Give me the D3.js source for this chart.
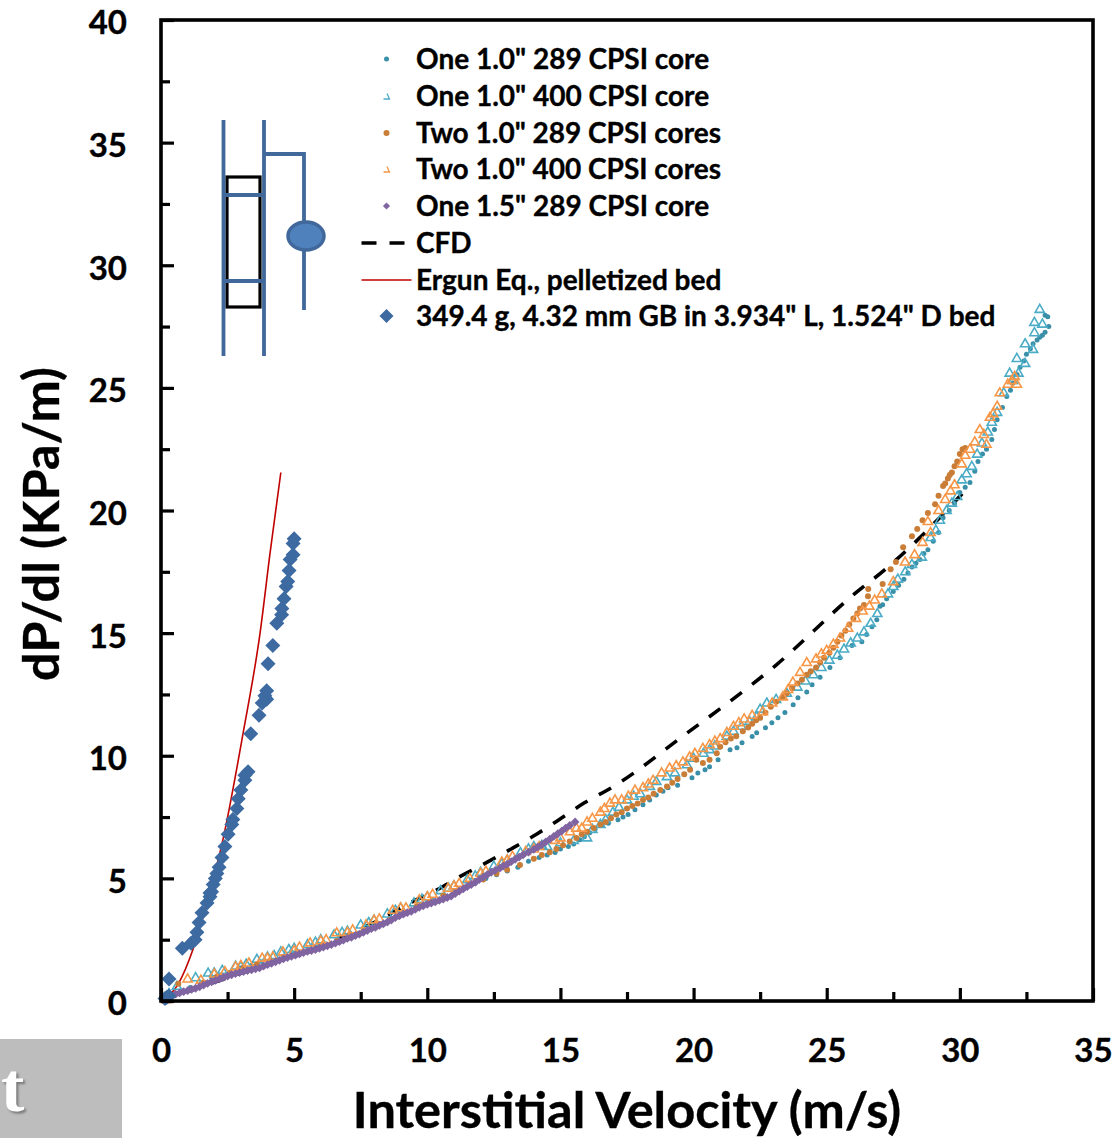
<!DOCTYPE html>
<html>
<head>
<meta charset="utf-8">
<script src="https://cdnjs.cloudflare.com/ajax/libs/d3/7.8.5/d3.min.js"></script>
<style>
  html, body { margin: 0; padding: 0; background: #fff; }
  svg { display: block; }
  text { font-family: Lato, "Noto Sans", sans-serif; font-weight: 700; fill: #000; stroke: #000; stroke-width: 0.35px; }
</style>
</head>
<body>
<div id="chart"></div>
<script>
// Values, [velocity m/s, dP/dl KPa/m]
const oneCore289 = [[0.2,0.1],[0.5,0.25],[0.8,0.4],[1.1,0.55],[1.5,0.7],[1.9,0.95],[2.2,1.05],[2.6,1.15],[3,1.35],[3.4,1.45],[3.8,1.6],[4.2,1.65],[4.6,1.8],[5,1.85],[5.4,2],[5.8,2.1],[6.2,2.3],[6.6,2.45],[7,2.6],[7.4,2.75],[7.8,3],[8.2,3.15],[8.6,3.35],[9,3.55],[9.4,3.7],[9.8,3.95],[10.2,4.1],[10.6,4.3],[11,4.45],[11.4,4.65],[11.8,4.8],[12.2,5],[12.6,5.15],[13,5.3],[13.4,5.45],[13.8,5.7],[14.2,5.85],[14.8,6.05],[15.3,6.3],[15.73,6.57],[16.1,6.86],[16.56,7.18],[17.16,7.39],[17.54,7.6],[18.1,8],[18.6,8.4],[19.04,8.7],[19.4,8.8],[19.94,9.1],[20.16,9.3],[20.43,9.43],[20.6,9.55],[20.92,9.84],[21.37,10.24],[21.63,10.33],[21.82,10.53],[22.2,10.78],[22.37,10.94],[22.7,11.14],[22.94,11.35],[23.17,11.55],[23.43,11.76],[23.74,12.08],[23.92,12.37],[24.25,12.6],[24.45,12.9],[24.75,13.2],[25.12,13.6],[25.5,14],[25.95,14.5],[26.32,14.65],[26.5,14.94],[26.7,15.26],[26.88,15.55],[27.1,16.16],[27,16.1],[27.5,16.7],[27.9,17.2],[28.2,17.7],[28.5,18],[28.8,18.4],[29.2,19.1],[29.37,19.7],[29.8,20.3],[30,20.73],[30.38,21.14],[30.56,21.6],[30.68,22],[31,22.5],[31.2,22.9],[31.4,23.7],[31.76,24.65],[32,25.2],[32.26,25.84],[32.5,26.37],[32.75,26.8],[33,27.06],[33.2,27.27],[33.34,27.5],[33.3,27.9],[33.2,27.96],
  [14.5,5.95],[15,6.2],[15.5,6.4],[15.9,6.7],[16.3,7],[16.8,7.25],[17.35,7.5],[17.8,7.8],[18.35,8.2],[18.85,8.55],[27.25,16.4],[27.7,16.95],[28.05,17.45],[28.35,17.85],[28.65,18.25],[29,18.75],[29.6,20],[30.2,20.95],[30.85,22.3],[31.3,23.3],[31.6,24.2],[31.9,24.9],[32.15,25.55],[32.4,26.1],[32.65,26.6],[32.9,26.95],[33.1,27.15]];

const oneCore400 = [[0.3,0.3],[0.6,0.6],[1.77,1.14],[2.3,1.25],[2.8,1.42],[3.2,1.5],[3.6,1.7],[4,1.8],[4.5,2],[5,2.15],[5.5,2.3],[6,2.5],[6.5,2.7],[7,2.85],[7.5,3.1],[8,3.3],[8.5,3.55],[9,3.8],[9.5,4],[10,4.25],[10.5,4.5],[11,4.7],[11.5,4.95],[12,5.25],[12.5,5.5],[13,5.75],[13.5,6.05],[14,6.3],[14.5,6.3],[15,6.45],[15.5,6.55],[16,6.65],[16.5,7.2],[16.97,7.7],[17.5,8.2],[18,8.45],[18.36,8.75],[19,9.15],[19.75,9.63],[20.37,10.1],[20.8,10.4],[21.25,10.8],[21.8,11.2],[22.37,11.6],[22.75,12.15],[23.1,12.3],[23.9,12.8],[24.5,13.3],[25.1,13.9],[25.4,14.1],[25.9,14.6],[26.4,15.05],[26.9,15.8],[27.3,16.6],[27.67,17.2],[28.2,17.8],[28.57,18.1],[28.9,18.9],[29.25,19.6],[29.5,20],[29.9,20.57],[30.07,21.25],[30.45,21.8],[30.83,22.75],[31.05,23.2],[31.4,24],[31.87,25.6],[32.2,25.6],[32.14,26.2],[32.45,26],[32.45,26.8],[32.75,26.57],[32.8,27.25],[32.8,27.67],[33.1,27.6],[33,28.2],
  [1.3,0.95],[2,1.15],[3,1.4],[4.25,1.85],[4.8,2.1],[5.8,2.4],[6.8,2.8],[7.8,3.2],[8.8,3.7],[9.8,4.15],[10.8,4.6],[11.8,5.1],[12.8,5.6],[13.8,6.2],[14.3,6.35],[16.2,7],[16.7,7.4],[17.2,7.9],[17.75,8.35],[18.6,8.95],[19.3,9.3],[20,9.9],[20.6,10.25],[21.5,11],[22.1,11.4],[22.5,11.9],[23.5,12.55],[24.2,13.05],[24.8,13.6],[25.65,14.35],[26.15,14.8],[26.65,15.4],[27.5,16.9],[27.95,17.5],[29.1,19.2],[29.7,20.3],[30.25,21.5],[30.65,22.3],[31.2,23.6],[31.65,24.8],[32,25.3]];

const twoCores289 = [[0.1,0.05],[0.65,0.7],[1.2,0.5],[1.6,0.75],[2.1,1],[2.6,1.15],[3.1,1.35],[3.6,1.5],[4.1,1.65],[4.6,1.8],[5.1,1.9],[5.6,2.05],[6.1,2.25],[6.6,2.45],[7.1,2.65],[7.6,2.85],[8.1,3.05],[8.6,3.3],[9.1,3.55],[9.6,3.85],[10.1,4.05],[10.6,4.3],[11.1,4.5],[11.6,4.75],[12.1,4.95],[12.6,5.2],[13,5.35],[13.48,5.55],[14,5.8],[14.6,6.07],[15.1,6.35],[15.6,6.65],[16,6.9],[16.5,7.2],[16.9,7.45],[17.3,7.7],[17.7,7.95],[18.1,8.2],[18.5,8.45],[19,8.75],[19.4,9.05],[19.87,9.43],[20.1,9.84],[20.35,9.7],[20.6,9.84],[20.87,10.1],[21,10.37],[21.4,10.7],[21.85,11],[22.2,11.3],[22.5,11.55],[22.9,12],[23.35,12.4],[23.7,12.75],[24.07,13.1],[24.4,13.45],[24.75,13.8],[25.1,14.2],[25.4,14.65],[25.7,15.1],[26,15.6],[26.25,16],[26.4,16.15],[26.55,16.5],[26.56,16.8],[27.1,17],[27.4,17.6],[27.6,17.9],[27.87,18.5],[28.2,18.95],[28.6,19.6],[28.8,19.9],[29.07,20.25],[29.37,21],[29.55,21.3],[29.7,21.55],[29.9,22],[30.1,22.5],
  [14.3,5.95],[14.85,6.2],[15.35,6.5],[15.8,6.8],[16.25,7.05],[16.7,7.3],[17.1,7.6],[17.5,7.85],[17.9,8.05],[18.3,8.3],[18.75,8.6],[19.2,8.9],[19.65,9.25],[21.2,10.55],[21.6,10.8],[22.05,11.15],[22.35,11.45],[22.7,11.75],[23.1,12.2],[23.5,12.55],[23.9,12.95],[24.25,13.3],[24.6,13.6],[24.9,14],[25.25,14.4],[25.55,14.9],[25.85,15.35],[26.15,15.8],[28.4,19.25],[29.2,20.6],[29.45,21.1],[29.62,21.45],[29.8,21.8],[30,22.3],[30.2,22.55]];

const twoCores400 = [[0.2,0.05],[1,0.9],[1.5,0.85],[2,1.1],[2.4,1.2],[2.8,1.39],[3.3,1.55],[3.8,1.75],[4.2,1.8],[4.58,2],[5.2,2.2],[5.6,2.37],[6.2,2.5],[6.6,2.78],[7.2,2.9],[7.7,3.1],[8.2,3.35],[8.7,3.7],[9.2,3.8],[9.7,4.12],[10.2,4.35],[10.78,4.6],[11.2,4.8],[11.6,5],[12.2,5.3],[12.8,5.67],[13.2,5.9],[13.7,6.1],[14.2,6.3],[14.8,6.55],[15.36,6.9],[15.8,7.05],[16.2,7.45],[16.5,7.7],[16.86,8.07],[17.3,8.2],[17.8,8.6],[18.1,8.7],[18.48,9],[19.1,9.5],[19.6,9.75],[20.05,10.1],[20.6,10.45],[21,10.7],[21.5,11.2],[21.9,11.5],[22.6,11.8],[23.35,12.4],[23.73,13],[24.25,13.8],[24.6,13.95],[25,14.3],[25.5,14.8],[26.1,15.6],[26.6,16.1],[27.07,16.6],[27.5,17.1],[27.94,17.9],[28.3,18.2],[28.6,18.7],[28.9,19.1],[28.8,19.55],[29.2,20],[29.45,20.45],[29.8,21.05],[30.07,21.9],[30.38,22.5],[30.56,22.8],[31,22.7],[30.75,23.3],[31.13,23.8],[31.4,24.25],[31.5,24.8],[31.8,25.15],[32.06,25.47],[32.14,25.15],
  [3,1.45],[4,1.75],[5,2.05],[6,2.45],[7,2.8],[8,3.3],[9,3.8],[10,4.25],[11,4.7],[12,5.2],[13,5.75],[14,6.2],[15,6.65],[15.6,7.05],[16,7.3],[16.65,7.85],[17.05,8.2],[17.55,8.35],[18.3,8.85],[18.8,9.3],[19.35,9.6],[19.85,9.95],[20.35,10.3],[20.8,10.6],[21.25,10.95],[21.7,11.35],[22.2,11.65],[22.95,12.15],[23.55,12.7],[24,13.4],[24.8,14.15],[25.25,14.55],[25.8,15.2],[26.35,15.9],[26.8,16.35],[29.65,20.8],[30.2,22.25],[30.9,23.1],[31.25,23.95],[31.95,25.3]];

const oneCore15 = [[0.1,0.05],[0.4,0.2],[0.7,0.33],[1,0.42],[1.3,0.52],[1.6,0.65],[1.9,0.78],[2.2,0.9],[2.5,1.02],[2.8,1.12],[3.1,1.2],[3.4,1.27],[3.7,1.35],[4,1.48],[4.3,1.6],[4.6,1.72],[4.9,1.82],[5.2,1.92],[5.5,2.02],[5.8,2.1],[6.1,2.2],[6.4,2.3],[6.7,2.42],[7,2.55],[7.3,2.67],[7.6,2.8],[7.9,2.95],[8.2,3.08],[8.5,3.22],[8.8,3.4],[9.1,3.54],[9.4,3.66],[9.7,3.82],[10,3.94],[10.3,4.04],[10.6,4.16],[10.9,4.28],[11.2,4.48],[11.5,4.66],[11.8,4.84],[12.1,5.05],[12.4,5.25],[12.73,5.42],[13,5.58],[13.3,5.78],[13.6,5.96],[14,6.18],[14.3,6.38],[14.6,6.6],[14.9,6.82],[15.2,7.05],[15.55,7.3],
  [0.55,0.28],[0.85,0.38],[1.15,0.47],[1.45,0.58],[1.75,0.72],[2.05,0.84],[2.35,0.96],[2.65,1.07],[2.95,1.16],[3.25,1.24],[3.55,1.31],[3.85,1.42],[4.15,1.54],[4.45,1.66],[4.75,1.77],[5.05,1.87],[5.35,1.97],[5.65,2.06],[5.95,2.15],[6.25,2.25],[6.55,2.36],[6.85,2.48],[7.15,2.6],[7.45,2.73],[7.75,2.87],[8.05,3],[8.35,3.15],[8.65,3.3],[8.95,3.47],[9.25,3.6],[9.55,3.74],[9.85,3.88],[10.15,3.99],[10.45,4.1],[10.75,4.22],[11.05,4.38],[11.35,4.57],[11.65,4.75],[11.95,4.95],[12.25,5.15],[12.55,5.33],[12.85,5.5],[13.15,5.68],[13.45,5.87],[13.8,6.07],[14.15,6.28],[14.45,6.49],[14.75,6.71],[15.05,6.93],[15.35,7.16]];

const cfdLine = [[0,0],[2.5,0.95],[5,1.85],[8,3.2],[9.35,4],[10.36,4.53],[11.2,5.06],[12.2,5.63],[13.15,6.2],[14.1,6.8],[15,7.43],[15.9,8.08],[17,8.75],[19.6,10.8],[23.1,13.7],[26.1,16.65],[27.2,17.6],[28.6,19],[30.1,20.7]];

const ergunLine = [[0,0],[0.65,0.7],[1.2,2.1],[1.8,4.3],[2.33,6.6],[3.08,10.9],[3.72,15],[4.1,18.3],[4.5,21.55]];

const glassBeads = [[0.15,0.1],[0.3,0.2],[0.22,0.15],[0.3,0.9],[0.8,2.15],[1.13,2.35],[1.28,2.5],[1.35,2.8],[1.43,3.2],[1.54,3.6],[1.73,4],[1.84,4.25],[1.84,4.4],[1.9,4.45],[1.96,4.75],[2.04,5],[2.1,5.2],[2.18,5.45],[2.29,5.85],[2.4,6.3],[2.52,6.8],[2.66,7.2],[2.7,7.4],[2.85,7.85],[2.9,8.25],[3,8.6],[3.15,9],[3.15,9.2],[3.27,9.35],[3.37,10.9],[3.68,11.65],[3.8,12.15],[3.97,12.3],[3.9,12.45],[3.97,12.65],[4.02,13.75],[4.2,14.5],[4.35,15.4],[4.53,15.75],[4.54,16],[4.62,16.4],[4.7,16.9],[4.76,17.1],[4.81,17.55],[4.85,18],[4.96,18.2],[4.96,18.65],[5,18.85]];

const legendLabels = ['One 1.0" 289 CPSI core','One 1.0" 400 CPSI core','Two 1.0" 289 CPSI cores','Two 1.0" 400 CPSI cores','One 1.5" 289 CPSI core','CFD','Ergun Eq., pelletized bed','349.4 g, 4.32 mm GB in 3.934" L, 1.524" D bed'];
const xTicks = [0,5,10,15,20,25,30,35];
const yTicks = [0,5,10,15,20,25,30,35,40];
const xMinorTicks = [2.5,7.5,12.5,17.5,22.5,27.5,32.5];
const yMinorTicks = [2.5,7.5,12.5,17.5,22.5,27.5,32.5,37.5];

const width = 1118;
const height = 1138;
const margin = {left:161, right:25, bottom:137, top:20};

const colTeal = "#3a8fa8";
const colCyan = "#4bacc6";
const colBrown = "#c97d37";
const colOrange = "#f79646";
const colPurple = "#8064a2";
const colBlue = "#3c6aa1";
const colRed = "#c00000";
const colPipe = "#41689b";

const svg = d3.select("#chart").append("svg")
  .attr("width", width)
  .attr("height", height);

const xScale = d3.scaleLinear().domain([0,35]).range([margin.left, width - margin.right]);
const yScale = d3.scaleLinear().domain([0,40]).range([height - margin.bottom, margin.top]);

// marker shapes
const triangle = "M0,-5L4.6,3L-4.6,3Z";
function rhomb(r) { return `M0,${-r}L${r},0L0,${r}L${-r},0Z`; }

const lineGen = d3.line().x(d => xScale(d[0])).y(d => yScale(d[1]));

// gray box bottom left, cropped slide text
svg.append("rect").attr("x",0).attr("y",1039).attr("width",122).attr("height",99).attr("fill","#bdbdbd");
svg.append("text")
  .attr("x",1).attr("y",1111)
  .style("font-family","'Liberation Serif', serif")
  .style("font-size","70px")
  .style("fill","#fff")
  .style("stroke","none")
  .style("filter","drop-shadow(2px 2px 1px #777)")
  .text("t");

// lines sit under the points
svg.append("path").datum(cfdLine)
  .attr("d", lineGen.curve(d3.curveMonotoneX))
  .attr("fill","none").attr("stroke","#000").attr("stroke-width",3.6)
  .attr("stroke-dasharray","14,13");
svg.append("path").datum(ergunLine)
  .attr("d", lineGen)
  .attr("fill","none").attr("stroke",colRed).attr("stroke-width",1.6);

function drawDots(data, color, r) {
  svg.append("g").selectAll("circle").data(data).enter().append("circle")
    .attr("cx", d => xScale(d[0]))
    .attr("cy", d => yScale(d[1]))
    .attr("r", r)
    .attr("fill", color);
}
function drawTriangles(data, color) {
  svg.append("g").selectAll("path").data(data).enter().append("path")
    .attr("transform", d => `translate(${xScale(d[0])},${yScale(d[1])})`)
    .attr("d", triangle)
    .attr("fill","none")
    .attr("stroke", color)
    .attr("stroke-width",1.6);
}
function drawDiamonds(data, color, r) {
  svg.append("g").selectAll("path").data(data).enter().append("path")
    .attr("transform", d => `translate(${xScale(d[0])},${yScale(d[1])})`)
    .attr("d", rhomb(r))
    .attr("fill", color);
}

drawDots(oneCore289, colTeal, 2.5);
drawTriangles(oneCore400, colCyan);
drawDots(twoCores289, colBrown, 3);
drawTriangles(twoCores400, colOrange);
drawDiamonds(oneCore15, colPurple, 4.4);
drawDiamonds(glassBeads, colBlue, 7.5);

// frame
svg.append("rect")
  .attr("x", xScale(0)).attr("y", yScale(40))
  .attr("width", xScale(35) - xScale(0))
  .attr("height", yScale(0) - yScale(40))
  .attr("fill","none").attr("stroke","#000").attr("stroke-width",3.6);

// axes, ticks point inward like excel
const xAxis = svg.append("g").attr("transform", `translate(0,${yScale(0)})`)
  .call(d3.axisBottom(xScale).tickValues(xTicks).tickSize(-13).tickPadding(38).tickFormat(d3.format("d")));
const yAxis = svg.append("g").attr("transform", `translate(${xScale(0)},0)`)
  .call(d3.axisLeft(yScale).tickValues(yTicks).tickSize(-13).tickPadding(34).tickFormat(d3.format("d")));
const xMinor = svg.append("g").attr("transform", `translate(0,${yScale(0)})`)
  .call(d3.axisBottom(xScale).tickValues(xMinorTicks).tickSize(-9).tickFormat(""));
const yMinor = svg.append("g").attr("transform", `translate(${xScale(0)},0)`)
  .call(d3.axisLeft(yScale).tickValues(yMinorTicks).tickSize(-9).tickFormat(""));

[xAxis, yAxis, xMinor, yMinor].forEach(g => {
  g.select(".domain").remove();
  g.selectAll(".tick line").attr("stroke","#000").attr("stroke-width",3.2);
  g.selectAll("text").style("font-size","33px").style("font-family","Lato, sans-serif").style("font-weight",700).attr("fill","#000");
});
yAxis.selectAll("text").attr("dy","0.42em");

// axis titles
svg.append("text")
  .attr("x",627).attr("y",1128)
  .attr("text-anchor","middle")
  .style("font-size","50.5px")
  .text("Interstitial Velocity (m/s)");
svg.append("text")
  .attr("transform","translate(59,524) rotate(-90)")
  .attr("text-anchor","middle")
  .style("font-size","50.5px")
  .text("dP/dl (KPa/m)");

// legend
const legendY = [59,96,133,169,206,243,280,316];
const legendX = 386.5;
legendLabels.forEach((t,i) => {
  svg.append("text")
    .attr("x",416).attr("y",legendY[i] + 10)
    .style("font-size","28px")
    .text(t);
});
const mark = (i) => svg.append("g").attr("transform", `translate(${legendX},${legendY[i]})`);
mark(0).append("circle").attr("r",2.5).attr("fill",colTeal);
mark(1).append("path").attr("d","M-3,3H3L0.5,-2.5").attr("fill","none").attr("stroke",colCyan).attr("stroke-width",1.3);
mark(2).append("circle").attr("r",3).attr("fill",colBrown);
mark(3).append("path").attr("d","M-3,3H3L0.5,-2.5").attr("fill","none").attr("stroke",colOrange).attr("stroke-width",1.3);
mark(4).append("path").attr("d",rhomb(3.6)).attr("fill",colPurple);
mark(5).append("line").attr("x1",-25).attr("x2",20).attr("stroke","#000").attr("stroke-width",3.6).attr("stroke-dasharray","15,13");
mark(6).append("line").attr("x1",-25).attr("x2",25).attr("stroke",colRed).attr("stroke-width",1.6);
mark(7).append("path").attr("d",rhomb(7)).attr("fill",colBlue);

// test section sketch
const sketch = svg.append("g").attr("fill","none");
sketch.append("rect").attr("x",227).attr("y",177).attr("width",33).attr("height",130).attr("stroke","#000").attr("stroke-width",3.2);
sketch.append("path").attr("stroke",colPipe).attr("stroke-width",3.8)
  .attr("d","M223.5,120V356M264,120V356M223.5,195H264M223.5,281H264M264,154H304V310");
svg.append("ellipse").attr("cx",306).attr("cy",236).attr("rx",18).attr("ry",14)
  .attr("fill","#4f81bd").attr("stroke",colPipe).attr("stroke-width",3.5);
</script>
</body>
</html>
